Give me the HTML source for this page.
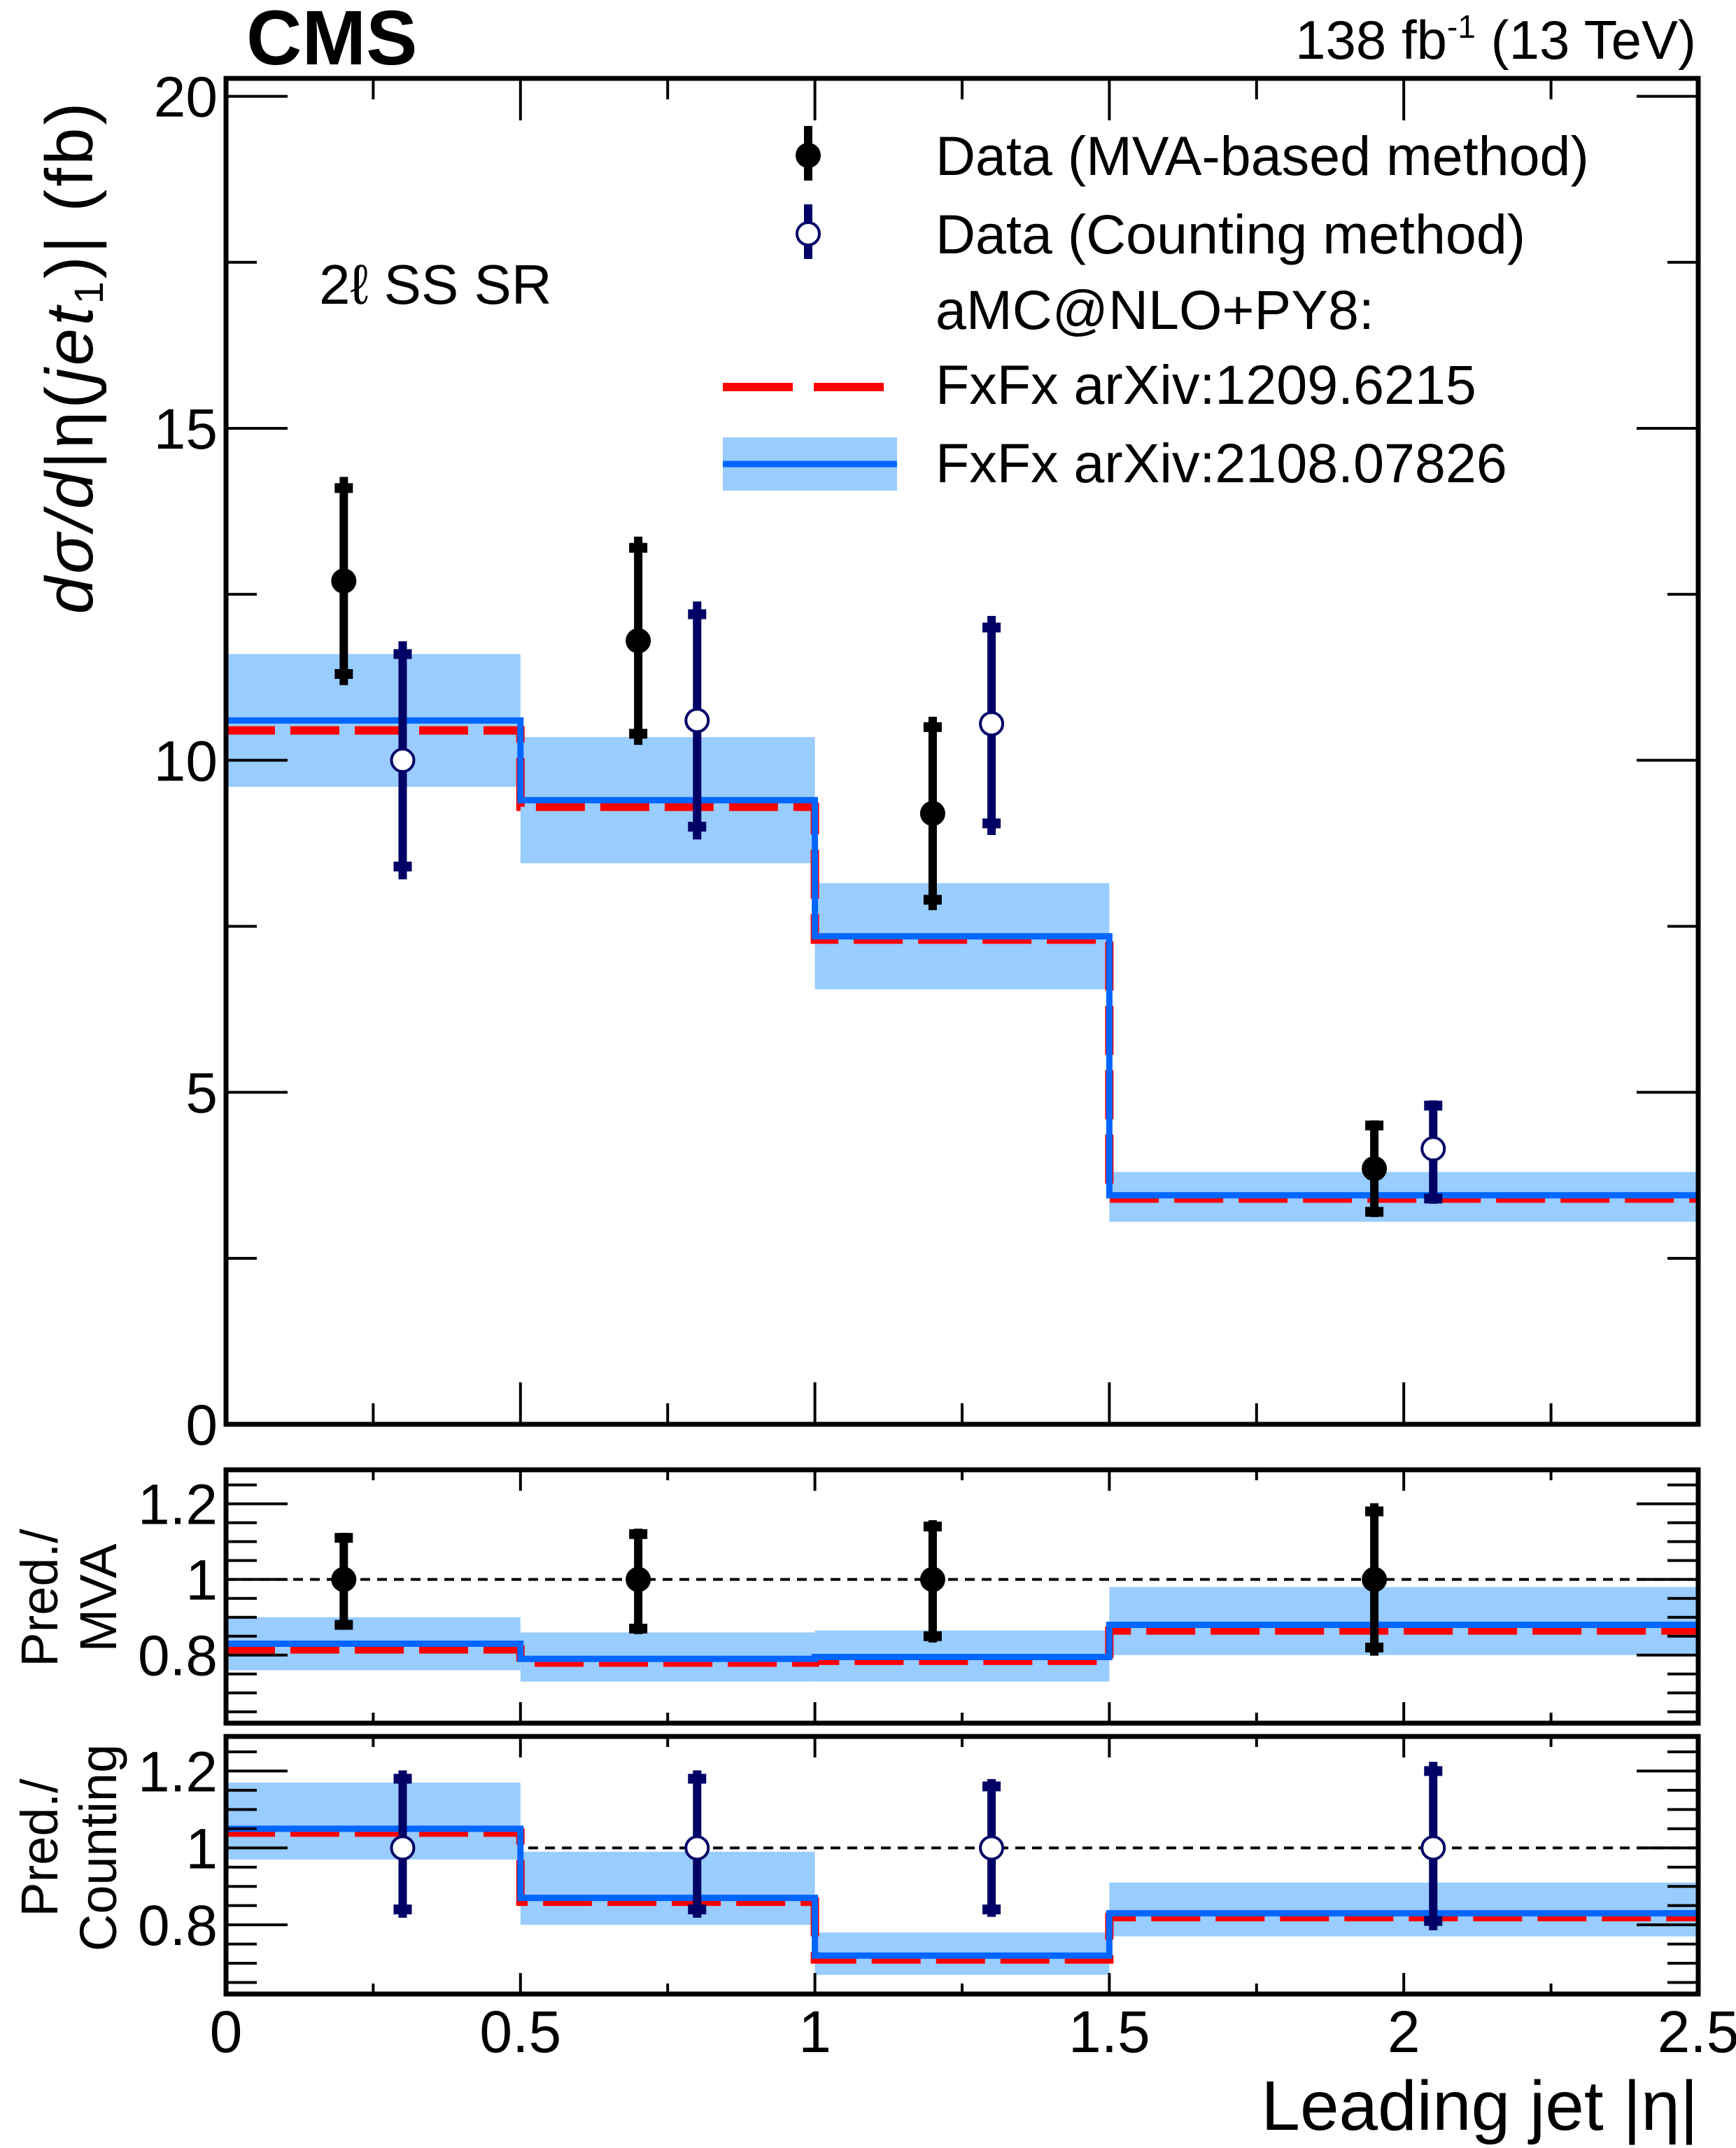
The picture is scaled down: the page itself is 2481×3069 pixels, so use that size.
<!DOCTYPE html>
<html><head><meta charset="utf-8"><style>
html,body{margin:0;padding:0;background:#fff;}
svg{display:block;font-family:"Liberation Sans",sans-serif;}
</style></head><body>
<svg id="c" width="2481" height="3069" viewBox="0 0 2481 3069" xmlns="http://www.w3.org/2000/svg">
<g id="g"></g>
<text x="352" y="92" font-size="110" font-weight="bold">CMS</text>
<text x="2424" y="84" font-size="78" text-anchor="end">138 fb<tspan dy="-30" font-size="46">-1</tspan><tspan dy="30"> (13 TeV)</tspan></text>
<text transform="translate(132,510) rotate(-90)" font-size="96" letter-spacing="4" text-anchor="middle"><tspan font-style="italic">dσ/d</tspan>|η(<tspan font-style="italic">jet</tspan><tspan font-size="58" dy="15">1</tspan><tspan dy="-15">)| (fb)</tspan></text>
<text x="456" y="434" font-size="80">2ℓ SS SR</text>
<text x="1337" y="250" font-size="79">Data (MVA-based method)</text>
<text x="1337" y="362" font-size="79">Data (Counting method)</text>
<text x="1337" y="470" font-size="79">aMC@NLO+PY8:</text>
<text x="1337" y="577" font-size="79">FxFx arXiv:1209.6215</text>
<text x="1337" y="689" font-size="79">FxFx arXiv:2108.07826</text>
<text transform="translate(82,2283) rotate(-90)" font-size="74" text-anchor="middle"><tspan x="0" dy="0">Pred./</tspan><tspan x="0" dy="84">MVA</tspan></text>
<text transform="translate(82,2640) rotate(-90)" font-size="74" text-anchor="middle"><tspan x="0" dy="0">Pred./</tspan><tspan x="0" dy="84">Counting</tspan></text>
<text x="2427" y="3043" font-size="100" text-anchor="end">Leading jet |η|</text>
</svg>
<script>
const binEdges=[0,0.5,1,1.5,2.5];
const xTicks=[0,0.5,1,1.5,2,2.5];
const xTickLabels=["0","0.5","1","1.5","2","2.5"];
const mainYTicks=[0,5,10,15,20];
const ratioYTicks=[0.8,1,1.2];
const ratioYLabels=["0.8","1","1.2"];
const mvaX=[0.2,0.7,1.2,1.95];
const mvaY=[12.7,11.8,9.2,3.85];
const mvaUp=[14.1,13.2,10.5,4.5];
const mvaDn=[11.3,10.4,7.9,3.2];
const cntX=[0.3,0.8,1.3,2.05];
const cntY=[10.0,10.6,10.55,4.15];
const cntUp=[11.6,12.2,12.0,4.8];
const cntDn=[8.4,9.0,9.05,3.4];
const predOld=[10.45,9.3,7.3,3.4];
const predNew=[10.6,9.4,7.35,3.45];
const bandLo=[9.6,8.45,6.55,3.05];
const bandHi=[11.6,10.35,8.15,3.8];
const rMvaUp=[1.11,1.12,1.14,1.18];
const rMvaDn=[0.88,0.87,0.85,0.82];
const rMvaOld=[0.815,0.78,0.785,0.865];
const rMvaNew=[0.83,0.79,0.795,0.88];
const rMvaLo=[0.76,0.73,0.73,0.80];
const rMvaHi=[0.90,0.86,0.865,0.98];
const rCntUp=[1.18,1.18,1.16,1.20];
const rCntDn=[0.84,0.84,0.84,0.81];
const rCntOld=[1.04,0.86,0.71,0.82];
const rCntNew=[1.05,0.87,0.72,0.83];
const rCntLo=[0.97,0.80,0.67,0.77];
const rCntHi=[1.17,0.99,0.78,0.91];

const NS="http://www.w3.org/2000/svg";
const G=document.getElementById('g');
function mk(tag,a,parent){const e=document.createElementNS(NS,tag);for(const k in a)e.setAttribute(k,a[k]);(parent||G).appendChild(e);return e;}
const X0=323,X1=2427;
const sx=v=>X0+(v-0)/(2.5-0)*(X1-X0);
function mkY(top,bot,lo,hi){return v=>bot-(v-lo)/(hi-lo)*(bot-top);}
const panels=[
 {top:112,bot:2035,lo:0,hi:20.27,name:'main'},
 {top:2100,bot:2462,lo:0.62,hi:1.29,name:'ratio-mva'},
 {top:2481,bot:2849,lo:0.62,hi:1.29,name:'ratio-counting'}];
panels.forEach(p=>p.sy=mkY(p.top,p.bot,p.lo,p.hi));

function drawPred(p,old,nw,lo,hi){
  for(let i=0;i<4;i++){
    const r=mk('rect',{x:sx(binEdges[i]),y:p.sy(hi[i]),width:sx(binEdges[i+1])-sx(binEdges[i]),height:p.sy(lo[i])-p.sy(hi[i]),fill:'#99ccff'});
    
    
  }
  function step(vals){let d='';for(let i=0;i<4;i++){d+=(i?'L':'M')+sx(binEdges[i])+' '+p.sy(vals[i])+' L'+sx(binEdges[i+1])+' '+p.sy(vals[i]);}return d;}
  const r=mk('path',{d:step(old),fill:'none',stroke:'#ff0000','stroke-width':12,'stroke-dasharray':'70 22'});
  
  
  const b=mk('path',{d:step(nw),fill:'none',stroke:'#0066ff','stroke-width':9});
  
  
}
function drawPts(p,xs,ys,up,dn,col,open,nm){
  for(let i=0;i<xs.length;i++){
    const g=mk('g',{});
    
    
    const x=sx(xs[i]);
    const ext=(up[i]-ys[i])*0.12;
    mk('line',{x1:x,x2:x,y1:p.sy(up[i]+ext),y2:p.sy(dn[i]-ext),stroke:col,'stroke-width':12},g);
    mk('rect',{x:x-13,y:p.sy(up[i])-7,width:26,height:14,fill:col},g);
    mk('rect',{x:x-13,y:p.sy(dn[i])-7,width:26,height:14,fill:col},g);
    if(open) mk('circle',{cx:x,cy:p.sy(ys[i]),r:16,fill:'#fff',stroke:col,'stroke-width':4},g);
    else mk('circle',{cx:x,cy:p.sy(ys[i]),r:18,fill:col},g);
  }
}
function drawFrame(p,yt,yl,minorStep){
  const f=mk('rect',{x:X0,y:p.top,width:X1-X0,height:p.bot-p.top,fill:'none',stroke:'#000','stroke-width':7});
  
  
  for(let v=0;v<=2.5001;v+=0.25){
    const x=sx(v), major=Math.abs(v*2-Math.round(v*2))<1e-6, L=major?(p.name==='main'?60:30):(p.name==='main'?30:15);
    mk('line',{x1:x,x2:x,y1:p.bot,y2:p.bot-L,stroke:'#000','stroke-width':4});
    mk('line',{x1:x,x2:x,y1:p.top,y2:p.top+L,stroke:'#000','stroke-width':4});
  }
  let v=Math.ceil(p.lo/minorStep)*minorStep;
  for(;v<=p.hi+1e-9;v+=minorStep){
    const isMaj=yt.some(t=>Math.abs(t-v)<1e-6), L=isMaj?88:44, y=p.sy(v);
    mk('line',{x1:X0,x2:X0+L,y1:y,y2:y,stroke:'#000','stroke-width':4});
    mk('line',{x1:X1,x2:X1-L,y1:y,y2:y,stroke:'#000','stroke-width':4});
  }
  yt.forEach((t,i)=>{const e=mk('text',{x:X0-12,y:p.sy(t)+29,'font-size':82,'text-anchor':'end'});e.textContent=yl[i];
    
    });
}
const pm=panels[0],p1=panels[1],p2=panels[2];
drawPred(pm,predOld,predNew,bandLo,bandHi);
drawPts(pm,mvaX,mvaY,mvaUp,mvaDn,'#000',false,'mva');
drawPts(pm,cntX,cntY,cntUp,cntDn,'#000066',true,'counting');
drawFrame(pm,mainYTicks,mainYTicks.map(String),2.5);

[p1,p2].forEach(p=>{
  const l=mk('line',{x1:X0,x2:X1,y1:p.sy(1),y2:p.sy(1),stroke:'#000','stroke-width':4,'stroke-dasharray':'14 10'});
  
  
});
drawPred(p1,rMvaOld,rMvaNew,rMvaLo,rMvaHi);
drawPts(p1,mvaX,mvaX.map(()=>1),rMvaUp,rMvaDn,'#000',false,'ratio-mva');
drawFrame(p1,ratioYTicks,ratioYLabels,0.05);
drawPred(p2,rCntOld,rCntNew,rCntLo,rCntHi);
drawPts(p2,cntX,cntX.map(()=>1),rCntUp,rCntDn,'#000066',true,'ratio-counting');
drawFrame(p2,ratioYTicks,ratioYLabels,0.05);

xTicks.forEach((t,i)=>{const e=mk('text',{x:sx(t),y:2932,'font-size':84,'text-anchor':'middle'});e.textContent=xTickLabels[i];
  
  });

const lg=mk('g',{});


mk('line',{x1:1155,x2:1155,y1:180,y2:258,stroke:'#000','stroke-width':12},lg);
mk('circle',{cx:1155,cy:222,r:18,fill:'#000'},lg);
mk('line',{x1:1155,x2:1155,y1:292,y2:370,stroke:'#000066','stroke-width':12},lg);
mk('circle',{cx:1155,cy:334,r:16,fill:'#fff',stroke:'#000066','stroke-width':4},lg);
mk('line',{x1:1033,x2:1282,y1:553,y2:553,stroke:'#ff0000','stroke-width':12,'stroke-dasharray':'100 30'},lg);
mk('rect',{x:1033,y:625,width:249,height:76,fill:'#99ccff'},lg);
mk('line',{x1:1033,x2:1282,y1:663,y2:663,stroke:'#0066ff','stroke-width':9},lg);
</script>
</body></html>
